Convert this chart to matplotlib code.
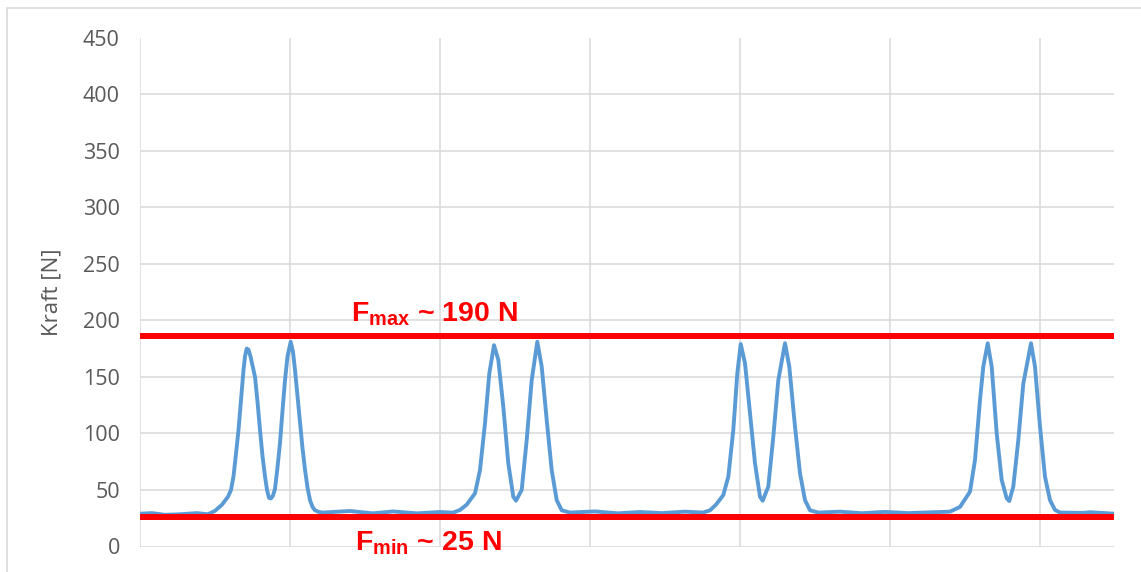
import matplotlib.pyplot as plt
from matplotlib.patches import Rectangle

# Kraftverlauf (Zeitachse ohne Beschriftung, Raster alle 150 Einheiten)
t = [0, 12, 25, 40, 57, 68, 75, 82, 88, 91, 93.5, 96, 98.5, 101, 103.5, 105,
     106.7, 108.5, 110.5, 112.5, 115, 117.5, 120, 122.5, 125, 127, 129, 131,
     133, 135, 137.5, 140, 142.5, 145, 147.5, 150.7, 153, 155, 157.5, 160,
     162.5, 165, 167.5, 170, 172.5, 175, 179, 183,
     210, 233, 253, 277, 300, 313, 320, 326.7, 335, 340, 345, 349.3, 354,
     358.3, 363.3, 368.3, 373.3, 376, 381.7, 386.7, 391.7, 397.3, 401.7,
     406.7, 411.7, 416.7, 421.7, 430,
     455, 478, 500, 522, 545, 563, 570, 576, 583.3, 588.3, 593.3, 597.3,
     600.7, 605, 610, 615, 620, 622.7, 628.3, 633.3, 638.3, 645, 649.3, 655,
     660, 665, 670, 678.3,
     700, 722, 745, 768, 790, 810, 820, 830, 835, 840, 843.3, 847.7, 851.7,
     856.7, 861.7, 866.7, 869.3, 873.3, 878.3, 883.3, 891, 895, 900, 905, 910,
     915, 920, 943.3, 950, 974]
kraft = [29, 29.5, 28, 28.5, 29.5, 28.5, 31.5, 37, 44, 50, 62, 82, 103, 130,
         156, 168, 175, 174, 168, 160, 150, 128, 103, 80, 62, 50, 43, 42.5,
         45, 51, 70, 91.5, 120, 147, 168, 181, 172, 156, 133, 109, 87, 68, 52,
         41, 35, 32, 30.5, 30,
         31.4, 29.3, 31, 29.3, 30.5, 29.9, 32.3, 37, 47, 67.6, 109, 153, 178,
         165, 123.6, 73.5, 44, 40.5, 50, 94, 147, 181, 159, 112, 67.6, 41, 32,
         30,
         31, 29.3, 30.5, 29.5, 30.8, 30, 32, 37, 45.5, 61.7, 103, 153, 179,
         162, 117.8, 73.5, 44, 40.5, 53, 97, 147, 179.7, 159, 106, 64.7, 41,
         32, 30,
         30.8, 29.4, 30.6, 29.5, 30.2, 30.8, 35, 48.5, 76.5, 129.5, 159, 179.7,
         159, 100, 58.8, 42.6, 40.2, 53, 94, 144, 179.7, 159, 106, 61.7, 41,
         32.3, 30, 29.7, 30.3, 29]

f_max = 186
f_min = 26.5
yticks = list(range(0, 451, 50))
xgrid = list(range(0, 901, 150))

fig = plt.figure(figsize=(11.41, 5.72), dpi=100)
ax = fig.add_axes([140 / 1141, 1 - 546.5 / 572, 974 / 1141, 509 / 572])

# Rahmen um das Diagramm
fig.patches.append(Rectangle((7 / 1141, -0.1), 1.2, 1.1 - 8 / 572,
                             transform=fig.transFigure, fill=False,
                             edgecolor='#d9d9d9', linewidth=1.2))

for y in yticks:
    ax.axhline(y, color='#d9d9d9', linewidth=1.1, zorder=0)
for x in xgrid:
    ax.axvline(x, color='#d9d9d9', linewidth=1.1, zorder=0)

ax.plot(t, kraft, color='#5b9bd5', linewidth=2.8, zorder=2,
        solid_joinstyle='round', solid_capstyle='round')

ax.axhline(f_max, color='#ff0000', linewidth=4.3, zorder=3)
ax.axhline(f_min, color='#ff0000', linewidth=4.3, zorder=3)

ax.set_xlim(0, 974)
ax.set_ylim(0, 450)
ax.set_xticks([])
ax.set_yticks(yticks)
ax.tick_params(axis='y', length=0, pad=14.5, labelsize=15.5,
               labelcolor='#595959')
for lab in ax.get_yticklabels():
    lab.set_fontfamily('Open Sans')
for s in ax.spines.values():
    s.set_visible(False)

ax.set_ylabel('Kraft [N]', fontsize=16, color='#595959', family='Open Sans')
ax.yaxis.set_label_coords(-0.080, 0.5)

txt = dict(color='#ff0000', fontsize=20.5, fontweight='bold',
           family='Liberation Sans', ha='center', va='baseline', clip_on=False)
ax.text(294.5, 199.6, r'F$_\mathregular{max}$ ~ 190 N', **txt)
ax.text(288, -3.1, r'F$_\mathregular{min}$ ~ 25 N', **txt)

fig.savefig('out.png', dpi=100)
